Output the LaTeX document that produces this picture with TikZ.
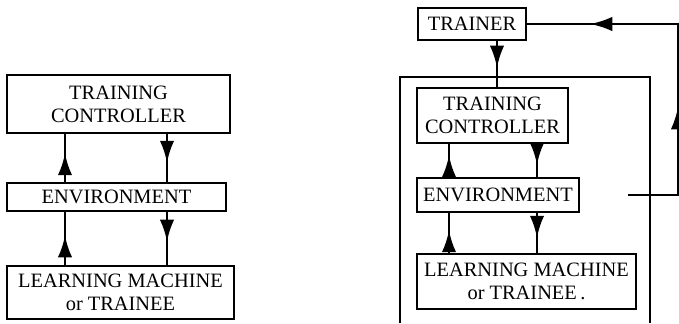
\documentclass[tikz,border=0pt]{standalone}
\usepackage{fontspec}
\setmainfont{Liberation Serif}
\usetikzlibrary{arrows.meta,decorations.markings}

\begin{document}
\begin{tikzpicture}[x=0.5pt,y=-0.5pt,
    block/.style={draw,line width=1pt,inner sep=0pt,align=center,
      font=\fontsize{10.2}{11.5}\selectfont},
    >={Latex[length=11pt,width=7.2pt]},
    mid arrow/.style={line width=1.4pt,postaction={decorate},
      decoration={markings,mark=at position #1 with {\arrow{>}}}},
    mid arrow/.default=0.58]
  \useasboundingbox (0,0) rectangle (679,323);
  % left: trainee and controller only
  \node[block,minimum width=111.5pt,minimum height=29pt] (ctrlA) at (118.5,104) {TRAINING\\CONTROLLER};
  \node[block,minimum width=109.5pt,minimum height=14pt] (envA) at (116.5,197) {ENVIRONMENT};
  \node[block,minimum width=113.5pt,minimum height=26.5pt] (learnA) at (120.5,292.5) {LEARNING MACHINE\\or TRAINEE};
  \coordinate (upA) at (65,0);
  \coordinate (downA) at (167,0);
  \draw[mid arrow=0.6] (envA.north -| upA) -- (ctrlA.south -| upA);
  \draw[mid arrow=0.6] (ctrlA.south -| downA) -- (envA.north -| downA);
  \draw[mid arrow=0.56] (learnA.north -| upA) -- (envA.south -| upA);
  \draw[mid arrow=0.56] (envA.south -| downA) -- (learnA.north -| downA);
  % right: with trainer
  \node[block,minimum width=54pt,minimum height=16pt] (trainer) at (472,24) {TRAINER};
  \node[block,minimum width=75.5pt,minimum height=27.5pt] (ctrlB) at (492.5,115.5) {TRAINING\\CONTROLLER};
  \node[block,minimum width=81pt,minimum height=17pt] (envB) at (498,195) {ENVIRONMENT};
  \node[block,minimum width=109.5pt,minimum height=27.5pt] (learnB) at (526.5,281.5) {LEARNING MACHINE\\or TRAINEE\,.};
  \draw[line width=0.8pt] (400,323) -- (400,77) -- (650,77) -- (650,323);
  \coordinate (trainB) at (497,0);
  \coordinate (upB) at (449,0);
  \coordinate (downB) at (537,0);
  \coordinate (fb) at (628,195);
  \coordinate (fbcorner) at (678,195);
  \draw[mid arrow=0.58] (trainer.south -| trainB) -- (ctrlB.north -| trainB);
  \draw[mid arrow=0.66] (envB.north -| upB) -- (ctrlB.south -| upB);
  \draw[mid arrow=0.63] (ctrlB.south -| downB) -- (envB.north -| downB);
  \draw[mid arrow=0.57] (learnB.north -| upB) -- (envB.south -| upB);
  \draw[mid arrow=0.62] (envB.south -| downB) -- (learnB.north -| downB);
  \draw[line width=1.1pt,postaction={decorate},
    decoration={markings,mark=at position 0.37 with {\arrow{>}},
      mark=at position 0.83 with {\arrow{>}}}]
    (fb) -- (fbcorner) |- (trainer.east);
\end{tikzpicture}
\end{document}
